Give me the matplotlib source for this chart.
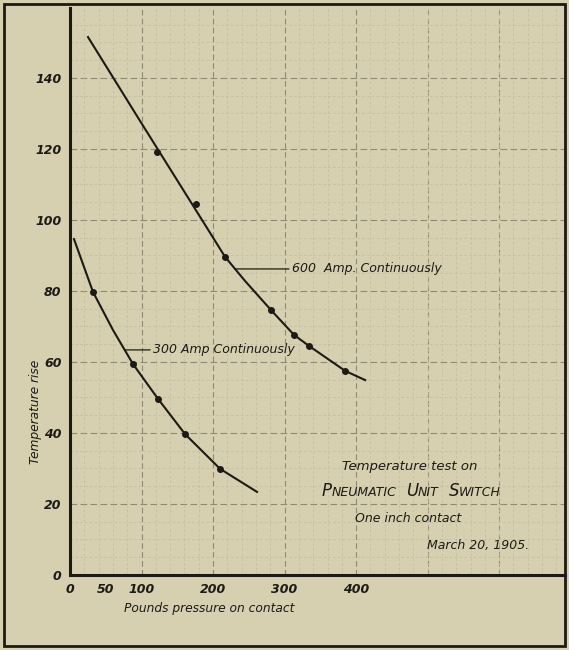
import numpy as np
import matplotlib as mpl
mpl.use('Agg')
from matplotlib import pyplot as plt
from matplotlib.patches import Rectangle
from matplotlib.offsetbox import TextArea, HPacker, AnnotationBbox

#------------------- Data -------------------
# 600 Amp curve: traced line and measured points
trace600_x = [25.2, 97.9, 170.6, 216.8, 244.8, 281.1, 313.3, 334.3, 384.6, 412.6]
trace600_y = [151.5, 127.9, 104.5, 89.6, 82.8, 74.6, 67.6, 64.5, 57.5, 54.9]
pts600_x = [121.7, 176.2, 216.8, 281.1, 313.3, 334.3, 384.6]
pts600_y = [119.2, 104.5, 89.6, 74.6, 67.6, 64.5, 57.5]

# 300 Amp curve
trace300_x = [5.6, 32.2, 60.1, 88.1, 123.1, 160.8, 209.8, 261.5]
trace300_y = [94.6, 79.7, 69.0, 59.4, 49.6, 39.7, 29.9, 23.4]
pts300_x = [32.2, 88.1, 123.1, 160.8, 209.8]
pts300_y = [79.7, 59.4, 49.6, 39.7, 29.9]

xticks = [0, 50, 100, 200, 300, 400]
yticks = [0, 20, 40, 60, 80, 100, 120, 140]

#--------------------- Style ------------------------
paper = '#d6d0b1'
ink = '#1c1a16'
font = {'family': 'DejaVu Sans', 'style': 'italic', 'color': ink}

fig = plt.figure(figsize=(5.69, 6.5), dpi=100, facecolor=paper)
axe = fig.add_axes([70/569, 75/650, 495/569, 567/650])
axe.set_facecolor(paper)
axe.set_xlim(0, 692)
axe.set_ylim(0, 159.7)

# graph-paper grid
axe.set_xticks(np.arange(0, 700, 20), minor=True)
axe.set_yticks(np.arange(0, 160, 5), minor=True)
axe.grid(which='minor', linestyle=(0, (4, 3)), linewidth=0.5, color='#c3bc9f')
for gx in range(100, 700, 100):
    axe.axvline(gx, linestyle=(0, (5, 3)), linewidth=0.8, color='#8f8a74', zorder=1)
for gy in range(20, 160, 20):
    axe.axhline(gy, linestyle=(0, (6, 3)), linewidth=0.8, color='#8f8a74', zorder=1)

# curves
axe.plot(trace600_x, trace600_y, color=ink, linewidth=1.5, zorder=3)
axe.plot(pts600_x, pts600_y, 'o', color=ink, markersize=4, zorder=4)
axe.plot(trace300_x, trace300_y, color=ink, linewidth=1.5, zorder=3)
axe.plot(pts300_x, pts300_y, 'o', color=ink, markersize=4, zorder=4)

# curve labels with leader lines
axe.annotate('600  Amp. Continuously', xy=(230.8, 86.2), xytext=(310, 86.2),
             fontsize=9, va='center', ha='left', **font,
             arrowprops=dict(arrowstyle='-', color=ink, lw=0.9, shrinkA=0, shrinkB=0))
axe.annotate('300 Amp Continuously', xy=(76.4, 63.4), xytext=(116, 63.4),
             fontsize=9, va='center', ha='left', **font,
             arrowprops=dict(arrowstyle='-', color=ink, lw=0.9, shrinkA=0, shrinkB=0))

# title block
axe.text(475, 30.7, 'Temperature test on', fontsize=9.5, ha='center', va='center', **font)
words = []
for big, small in [('P', 'NEUMATIC'), ('U', 'NIT'), ('S', 'WITCH')]:
    words.append(HPacker(children=[TextArea(big, textprops=dict(fontsize=12, style='italic', color=ink)),
                                   TextArea(small, textprops=dict(fontsize=9, style='italic', color=ink))],
                         align='baseline', pad=0, sep=0))
title = HPacker(children=words, align='baseline', pad=0, sep=7)
axe.add_artist(AnnotationBbox(title, (477, 23.7), xycoords='data', frameon=False,
                              box_alignment=(0.5, 0.5)))
axe.text(473, 15.8, 'One inch contact', fontsize=9, ha='center', va='center', **font)
axe.text(571, 8.2, 'March 20, 1905.', fontsize=9, ha='center', va='center', **font)

# axes
for side in ['top', 'right']:
    axe.spines[side].set_visible(False)
for side in ['left', 'bottom']:
    axe.spines[side].set_linewidth(2.2)
    axe.spines[side].set_color(ink)
axe.set_xticks(xticks)
axe.set_yticks(yticks)
axe.set_xticklabels([str(t) for t in xticks], fontsize=9, fontweight='bold', style='italic', color=ink)
axe.set_yticklabels([str(t) for t in yticks], fontsize=9, fontweight='bold', style='italic', color=ink)
axe.tick_params(which='both', length=0)
axe.tick_params(axis='x', pad=6)
axe.tick_params(axis='y', pad=6)
axe.set_xlabel('Pounds pressure on contact', fontsize=8.8, **font)
axe.xaxis.set_label_coords((209-70)/495, -27/567)
axe.set_ylabel('Temperature rise', fontsize=8.8, **font)
axe.yaxis.set_label_coords(-28/495, (575-412)/567)

# outer frame of the plate
fig.patches.append(Rectangle((4/569, 4/650), 561/569, 642/650, transform=fig.transFigure,
                             fill=False, edgecolor=ink, linewidth=2))

plt.savefig('out.png', dpi=100, facecolor=paper)
